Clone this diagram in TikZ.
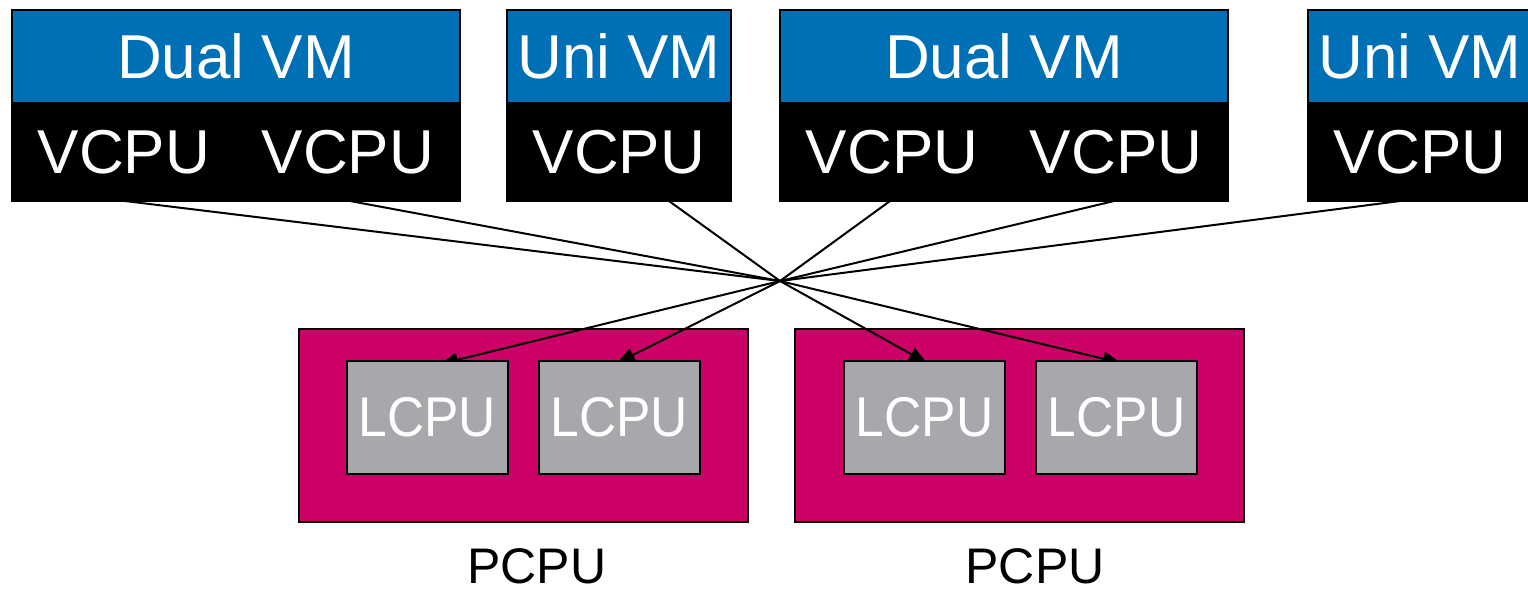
\documentclass[tikz,border=0pt]{standalone}
\usepackage{fontspec}
\usepackage{graphicx}
\setmainfont{Liberation Sans}
\usetikzlibrary{arrows.meta,calc}
\pgfdeclarelayer{back}
\pgfdeclarelayer{front}
\pgfsetlayers{back,main,front}
\definecolor{vmblue}{RGB}{0,112,182}
\definecolor{pcpumag}{RGB}{204,0,102}
\definecolor{lcpugray}{RGB}{167,168,172}
\begin{document}
\begin{tikzpicture}[x=1pt,y=-1pt,
  box/.style={draw=black,line width=2pt,inner sep=0pt,outer sep=0pt,anchor=north west},
  vmhead/.style={box,fill=vmblue,text=white,font=\fontsize{62}{62}\selectfont,minimum height=93pt},
  vcpu/.style={box,fill=black,text=white,font=\fontsize{62}{62}\selectfont,minimum width=224pt,minimum height=98pt},
  pcpu/.style={box,fill=pcpumag,minimum width=449pt,minimum height=193pt},
  lcpu/.style={box,fill=lcpugray,text=white,font=\fontsize{56}{56}\selectfont,minimum width=161pt,minimum height=113pt},
  wire/.style={line width=2pt},
  map/.style={wire,-{Triangle[length=18pt,width=14pt]}},
  lbl/.style={font=\fontsize{50}{50}\selectfont,anchor=base,inner sep=0pt,outer sep=0pt}]
\useasboundingbox (0,0) rectangle (1528,590);

% virtual machines
\node[vmhead,minimum width=448pt] (vm1) at (12,10) {Dual VM};
\node[vcpu] (v1a) at (12,103) {VCPU};
\node[vcpu] (v1b) at (236,103) {VCPU};
\node[vmhead,minimum width=224pt] (vm2) at (507,10) {Uni VM};
\node[vcpu] (v2) at (507,103) {VCPU};
\node[vmhead,minimum width=448pt] (vm3) at (780,10) {Dual VM};
\node[vcpu] (v3a) at (780,103) {VCPU};
\node[vcpu] (v3b) at (1004,103) {VCPU};
\node[vmhead,minimum width=224pt] (vm4) at (1308,10) {Uni VM};
\node[vcpu] (v4) at (1308,103) {VCPU};

% physical CPUs
\begin{pgfonlayer}{back}
  \node[pcpu] (p1) at (299,329) {};
  \node[pcpu] (p2) at (795,329) {};
\end{pgfonlayer}
\begin{pgfonlayer}{front}
  \node[lcpu] (l1) at (347,361) {\scalebox{0.92}[1]{LCPU}};
  \node[lcpu] (l2) at (539,361) {\scalebox{0.92}[1]{LCPU}};
  \node[lcpu] (l3) at (844,361) {\scalebox{0.92}[1]{LCPU}};
  \node[lcpu] (l4) at (1036,361) {\scalebox{0.92}[1]{LCPU}};
\end{pgfonlayer}
\node[lbl] (p1lbl) at (537,583) {PCPU};
\node[lbl] (p2lbl) at (1035,583) {PCPU};

% scheduler hub
\coordinate (hub) at (780,281);
\draw[wire] ([xshift=1pt]v1a.south) -- (hub);
\draw[wire] ([xshift=2pt]v1b.south) -- (hub);
\draw[wire] ([xshift=50pt]v2.south) -- (hub);
\draw[wire] ([xshift=-2pt]v3a.south) -- (hub);
\draw[wire] ([xshift=-2pt]v3b.south) -- (hub);
\draw[wire] ([xshift=-20pt]v4.south) -- (hub);

\draw[map] (hub) -- ($(l1.north)+(12.5,3)$);
\draw[map] (hub) -- ($(l2.north)+(-2.5,2)$);
\draw[map] (hub) -- ($(l3.north)+(2.5,2)$);
\draw[map] (hub) -- ($(l4.north)+(4.5,2)$);
\end{tikzpicture}
\end{document}
